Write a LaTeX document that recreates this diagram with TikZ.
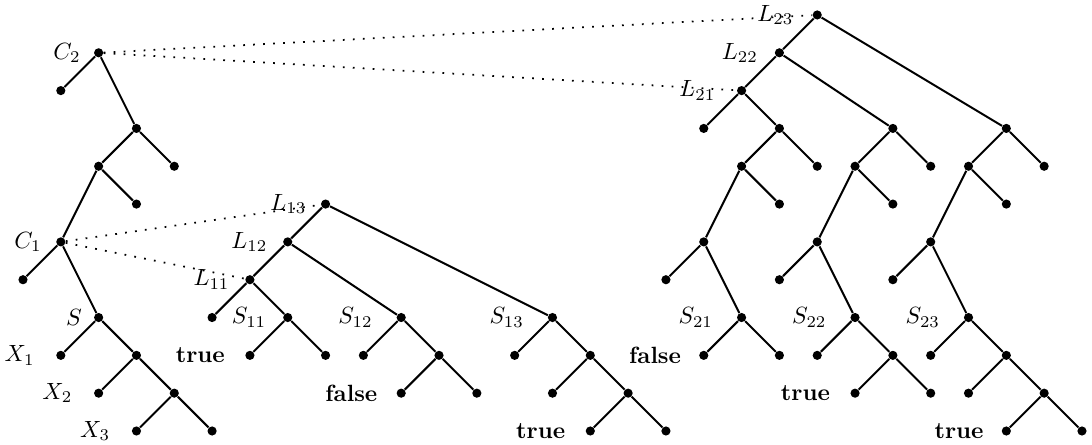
\documentclass[tikz,border=0pt]{standalone}
\begin{document}
\begin{tikzpicture}[x=0.566cm,y=0.566cm,
  dot/.style={circle,fill=black,inner sep=0pt,minimum size=3.9pt},
  edge/.style={line width=0.85pt},
  link/.style={line width=0.75pt,dash pattern=on 0.75pt off 3.5pt},
  lb/.style={label distance=#1},
  lb/.default=3pt]
\useasboundingbox (-0.608,-0.370) rectangle (28.265,11.396);
% left tree
\node[dot,label={[lb=2pt]left:$C_2$}] (C2) at (2,10) {};
\node[dot,label={[lb=2.5pt]left:$C_1$}] (C1) at (1,5) {};
\node[dot,label={[lb=1.5pt]left:$S$}] (S) at (2,3) {};
\node[dot,label={[lb=5.5pt]left:$X_1$}] (X1) at (1,2) {};
\node[dot,label={[lb=5.5pt]left:$X_2$}] (X2) at (2,1) {};
\node[dot,label={[lb=5.5pt]left:$X_3$}] (X3) at (3,0) {};
\foreach \n/\x/\y in {t1/1/9,t2/3/8,t3/2/7,t4/4/7,t5/3/6,t6/0/4,t7/3/2,t8/4/1,t9/5/0}
  \node[dot] (\n) at (\x,\y) {};
\foreach \a/\b in {C2/t1,C2/t2,t2/t3,t2/t4,t3/C1,t3/t5,C1/t6,C1/S,S/X1,S/t7,t7/X2,t7/t8,t8/X3,t8/t9}
  \draw[edge] (\a) -- (\b);
% middle tree
\node[dot,label={[lb=2.5pt]left:$L_{13}$}] (L13) at (8,6) {};
\node[dot,label={[lb=3pt]left:$L_{12}$}] (L12) at (7,5) {};
\node[dot,label={[lb=3pt]left:$L_{11}$}] (L11) at (6,4) {};
\node[dot,label={[lb=3.5pt]left:$S_{11}$}] (S11) at (7,3) {};
\node[dot,label={[lb=6.5pt]left:$S_{12}$}] (S12) at (10,3) {};
\node[dot,label={[lb=6.5pt]left:$S_{13}$}] (S13) at (14,3) {};
\node[dot,label={[lb=5pt]left:\textbf{true}}] (m2) at (6,2) {};
\node[dot,label={[lb=4.5pt]left:\textbf{false}}] (m6) at (10,1) {};
\node[dot,label={[lb=5pt]left:\textbf{true}}] (m12) at (15,0) {};
\foreach \n/\x/\y in {m1/5/3,m3/8/2,m4/9/2,m5/11/2,m7/12/1,m8/13/2,m9/15/2,m10/14/1,m11/16/1,m13/17/0}
  \node[dot] (\n) at (\x,\y) {};
\foreach \a/\b in {L13/L12,L13/S13,L12/L11,L12/S12,L11/m1,L11/S11,S11/m2,S11/m3,S12/m4,S12/m5,m5/m6,m5/m7,S13/m8,S13/m9,m9/m10,m9/m11,m11/m12,m11/m13}
  \draw[edge] (\a) -- (\b);
% right tree
\node[dot,label={[lb=4.5pt]left:$L_{23}$}] (L23) at (21,11) {};
\node[dot,label={[lb=3.5pt]left:$L_{22}$}] (L22) at (20,10) {};
\node[dot,label={[lb=5.5pt]left:$L_{21}$}] (L21) at (19,9) {};
\node[dot,label={[lb=6.5pt]left:$S_{21}$}] (S21) at (19,3) {};
\node[dot,label={[lb=6.5pt]left:$S_{22}$}] (S22) at (22,3) {};
\node[dot,label={[lb=6.5pt]left:$S_{23}$}] (S23) at (25,3) {};
\node[dot,label={[lb=4pt]left:\textbf{false}}] (r8) at (18,2) {};
\node[dot,label={[lb=5pt]left:\textbf{true}}] (f8) at (22,1) {};
\node[dot,label={[lb=4pt]left:\textbf{true}}] (g10) at (26,0) {};
\foreach \n/\x/\y in {r1/18/8,r2/20/8,r3/19/7,r4/21/7,r5/18/5,r6/20/6,r7/17/4,r9/20/2,
  f0/23/8,f1/22/7,f2/24/7,f3/21/5,f4/23/6,f5/20/4,f6/21/2,f7/23/2,f9/24/1,
  g0/26/8,g1/25/7,g2/27/7,g3/24/5,g4/26/6,g5/23/4,g6/24/2,g7/26/2,g8/25/1,g9/27/1,g11/28/0}
  \node[dot] (\n) at (\x,\y) {};
\foreach \a/\b in {L23/L22,L23/g0,L22/L21,L22/f0,L21/r1,L21/r2,r2/r3,r2/r4,r3/r5,r3/r6,r5/r7,r5/S21,S21/r8,S21/r9,
  f0/f1,f0/f2,f1/f3,f1/f4,f3/f5,f3/S22,S22/f6,S22/f7,f7/f8,f7/f9,
  g0/g1,g0/g2,g1/g3,g1/g4,g3/g5,g3/S23,S23/g6,S23/g7,g7/g8,g7/g9,g9/g10,g9/g11}
  \draw[edge] (\a) -- (\b);
% dotted links
\draw[link] (C2) -- (L23);
\draw[link] (C2) -- (L21);
\draw[link] (C1) -- (L13);
\draw[link] (C1) -- (L11);
\end{tikzpicture}
\end{document}
